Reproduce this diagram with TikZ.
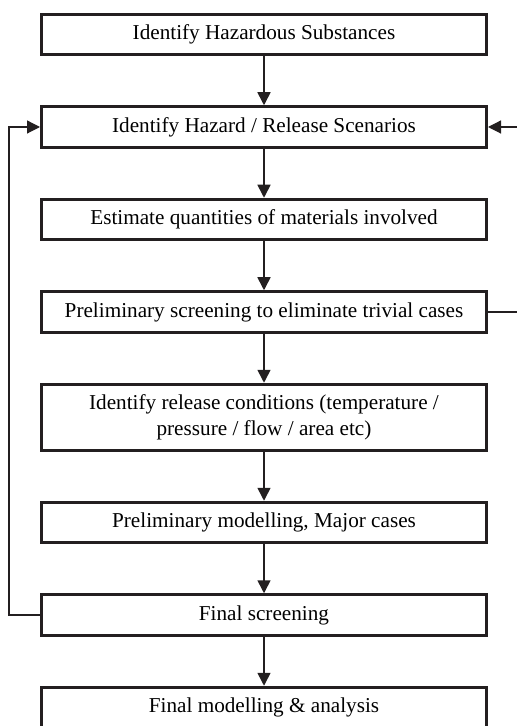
\documentclass[tikz,border=0pt]{standalone}
\usepackage{fontspec}
\setmainfont{Liberation Serif}
\usepackage{xcolor}
\usetikzlibrary{positioning, calc, arrows.meta}

\definecolor{inkgray}{HTML}{231F20}

\begin{document}
\begin{tikzpicture}[
    node distance=24.5pt,
    stepbox/.style={rectangle, draw=inkgray, line width=1.5pt, fill=white, minimum width=222.5pt, minimum height=20.25pt, align=center, inner sep=2pt, font=\fontsize{10.6}{13.3}\selectfont},
    arrow/.style={-{Triangle[length=6.5pt, width=6.5pt]}, line width=0.8pt, draw=inkgray},
    loopline/.style={-{Triangle[length=6.5pt, width=6.5pt]}, line width=0.6pt, draw=inkgray}
]
\useasboundingbox (0,0) rectangle (258pt,-363pt);

% Main steps
\node[stepbox] (haz_subst) at (132pt,-17.25pt) {Identify Hazardous Substances};
\node[stepbox, below=of haz_subst] (haz_scen) {Identify Hazard / Release Scenarios};
\node[stepbox, below=of haz_scen] (quantities) {Estimate quantities of materials involved};
\node[stepbox, below=of quantities] (prelim_screen) {Preliminary screening to eliminate trivial cases};
\node[stepbox, below=of prelim_screen, minimum height=33pt] (release_cond) {Identify release conditions (temperature /\\ pressure / flow / area etc)};
\node[stepbox, below=of release_cond] (prelim_model) {Preliminary modelling, Major cases};
\node[stepbox, below=of prelim_model] (final_screen) {Final screening};
\node[stepbox, below=of final_screen] (final_model) {Final modelling \& analysis};

% Flow arrows
\draw[arrow] (haz_subst) -- (haz_scen);
\draw[arrow] (haz_scen) -- (quantities);
\draw[arrow] (quantities) -- (prelim_screen);
\draw[arrow] (prelim_screen) -- (release_cond);
\draw[arrow] (release_cond) -- (prelim_model);
\draw[arrow] (prelim_model) -- (final_screen);
\draw[arrow] (final_screen) -- (final_model);

% Feedback loops (right one runs just past the page edge)
\coordinate (loop_left) at (4.5pt,0);
\coordinate (loop_right) at (258.6pt,0);
\draw[loopline] (final_screen.west) -- (final_screen.west -| loop_left) |- (haz_scen.west);
\draw[loopline] (prelim_screen.east) -- (prelim_screen.east -| loop_right) |- (haz_scen.east);

\end{tikzpicture}
\end{document}
